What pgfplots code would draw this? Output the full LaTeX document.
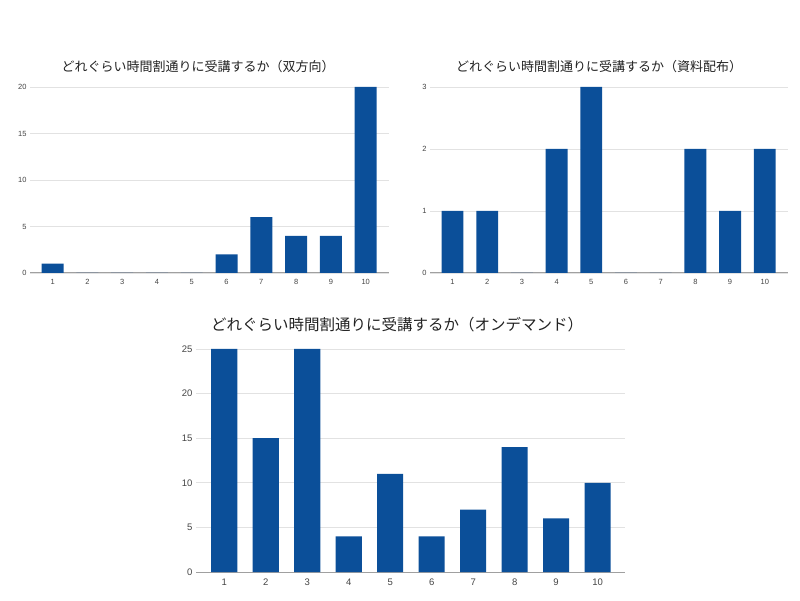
\documentclass[border=0pt]{standalone}
\usepackage{pgfplots}
\pgfplotsset{compat=1.18}
\usepackage{fontspec}
\setmainfont{Liberation Sans}
\newfontfamily\jp{Noto Sans CJK JP}
\definecolor{barblue}{HTML}{0B4F99}
\definecolor{gridc}{HTML}{E2E2E2}
\definecolor{axc}{HTML}{A0A0A0}
\definecolor{tickc}{HTML}{444444}
\definecolor{titlec}{HTML}{222222}
\pgfplotsset{myax/.style={
  scale only axis, anchor=south west,
  ymin=0,
  axis x line*=bottom, axis y line*=left,
  y axis line style={draw=none},
  x axis line style={axc, line width=1pt, -},
  major tick length=0pt,
  ymajorgrids, grid style={gridc, line width=0.8pt},
  xtick={1,...,10},
  tick label style={color=tickc},
  xticklabel style={yshift=-3pt},
  /pgf/number format/assume math mode=true,
  ybar, bar width=0.63,
  clip=false,
}}
\begin{document}
\begin{tikzpicture}
\path (0pt,0pt) rectangle (800pt,600pt);
% top-left
\begin{axis}[myax, at={(30pt,327pt)}, width=359pt, height=186pt, xmin=0.35, xmax=10.67, ymax=20, ytick={0,5,10,15,20},
  tick label style={font=\fontsize{7.5}{9}\selectfont}]
\addplot[fill=barblue, draw=none] coordinates {(1,1) (2,0) (3,0) (4,0) (5,0) (6,2) (7,6) (8,4) (9,4) (10,20)};
\end{axis}
\node[text=titlec, font=\jp\fontsize{13}{15}\selectfont] at (198pt,533pt) {どれぐらい時間割通りに受講するか（双方向）};
% top-right
\begin{axis}[myax, at={(430pt,327pt)}, width=358pt, height=186pt, xmin=0.35, xmax=10.67, ymax=3, ytick={0,1,2,3},
  tick label style={font=\fontsize{7.5}{9}\selectfont}]
\addplot[fill=barblue, draw=none] coordinates {(1,1) (2,1) (3,0) (4,2) (5,3) (6,0) (7,0) (8,2) (9,1) (10,2)};
\end{axis}
\node[text=titlec, font=\jp\fontsize{13}{15}\selectfont] at (599pt,533pt) {どれぐらい時間割通りに受講するか（資料配布）};
% bottom
\begin{axis}[myax, at={(196pt,28pt)}, width=429pt, height=223pt, xmin=0.32, xmax=10.66, ymax=25, ytick={0,5,10,15,20,25},
  tick label style={font=\fontsize{9.5}{11}\selectfont}]
\addplot[fill=barblue, draw=none] coordinates {(1,25) (2,15) (3,25) (4,4) (5,11) (6,4) (7,7) (8,14) (9,6) (10,10)};
\end{axis}
\node[text=titlec, font=\jp\fontsize{15.5}{18}\selectfont] at (397pt,275pt) {どれぐらい時間割通りに受講するか（オンデマンド）};
\end{tikzpicture}
\end{document}
